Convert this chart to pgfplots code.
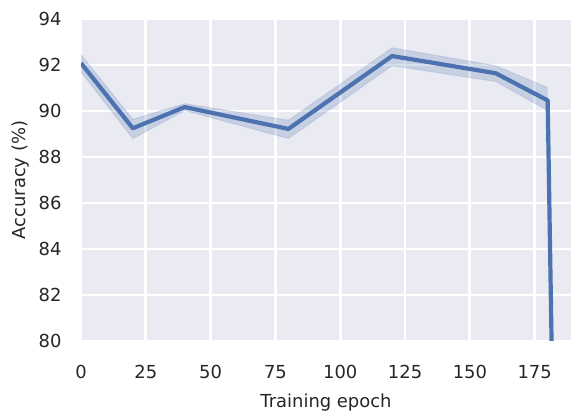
\documentclass[border=0pt]{standalone}
\usepackage{fontspec}
\setmainfont{DejaVu Sans}
\usepackage{pgfplots}
\pgfplotsset{compat=1.18}
\usepgfplotslibrary{fillbetween}
\definecolor{sbblue}{HTML}{4C72B0}
\definecolor{sbbg}{HTML}{EAEAF2}
\definecolor{sbtext}{HTML}{262626}
\begin{document}
\begin{tikzpicture}
\begin{axis}[
    scale only axis,
    width=490bp, height=322bp,
    xmin=0, xmax=189,
    ymin=80, ymax=94,
    xtick={0,25,...,175},
    ytick={80,82,...,94},
    axis background/.style={fill=sbbg},
    axis line style={draw=none},
    major tick length=0pt,
    grid=major,
    grid style={white, line width=2.8bp},
    /pgf/number format/assume math mode=true,
    tick label style={font=\fontsize{18}{21}\selectfont, text=sbtext},
    label style={font=\fontsize{18}{21}\selectfont, text=sbtext},
    yticklabel style={xshift=-16bp},
    xticklabel style={yshift=-21bp},
    xlabel={Training epoch},
    ylabel={Accuracy (\%)},
    xlabel style={yshift=-8bp},
    ylabel style={yshift=3bp},
    clip=true,
]
\addplot[name path=up, draw=sbblue, draw opacity=0.15, line width=1bp] coordinates {
(0,92.45)(20,89.64)(40,90.32)(80,89.6)(120,92.75)(160,91.97)(180,91.02)};
\addplot[name path=lo, draw=sbblue, draw opacity=0.15, line width=1bp] coordinates {
(0,91.7)(20,88.8)(40,90.02)(80,88.8)(120,91.97)(160,91.28)(180,90.02)};
\addplot[sbblue, fill opacity=0.22, draw=none] fill between[of=up and lo];
\addplot[sbblue, line width=4.2bp, line join=round] coordinates {
(0,92.08)(20,89.25)(40,90.17)(80,89.22)(120,92.39)(160,91.64)(180,90.46)(182,76.5)};
\end{axis}
\useasboundingbox ([xshift=-81bp,yshift=-75bp]current axis.south west) rectangle ([xshift=10bp,yshift=19bp]current axis.north east);
\end{tikzpicture}
\end{document}
